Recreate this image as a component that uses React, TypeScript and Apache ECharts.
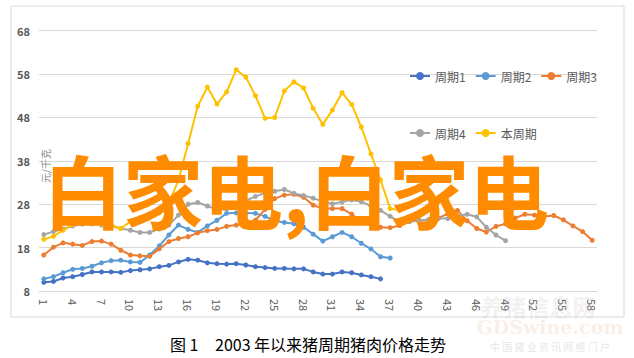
import React, { useEffect, useRef } from "react";
import * as echarts from "echarts";

const categories = [
  "1","2","3","4","5","6","7","8","9","10","11","12","13","14","15","16","17","18","19","20",
  "21","22","23","24","25","26","27","28","29","30","31","32","33","34","35","36","37","38","39","40",
  "41","42","43","44","45","46","47","48","49","50","51","52","53","54","55","56","57","58",
];

const cycle1 = [10.0,10.2,11.0,11.3,11.8,12.4,12.4,12.4,12.3,12.7,12.9,13.1,13.6,13.9,14.7,15.3,15.1,14.5,14.3,14.2,14.3,14.0,13.6,13.4,13.2,13.2,13.1,13.1,12.4,11.9,11.9,12.4,12.2,11.7,11.3,10.8];
const cycle2 = [10.8,11.3,12.2,13.0,13.2,13.7,14.5,15.0,15.1,14.7,14.6,16.3,18.4,20.9,23.2,22.2,21.5,23.0,24.3,25.9,26.0,26.0,25.9,25.2,24.2,23.8,23.5,22.7,21.1,19.5,20.5,21.5,20.5,19.0,17.7,15.9,15.6];
const cycle3 = [16.3,18.1,19.1,18.8,18.5,19.4,19.5,18.8,17.4,16.3,16.1,16.0,17.7,19.4,20.1,20.5,21.4,21.9,22.2,22.9,23.2,23.5,24.3,26.8,29.3,30.1,30.3,29.6,27.8,27.0,27.0,27.0,25.7,24.0,23.3,22.7,22.6,23.1,24.0,24.3,24.2,24.8,25.8,26.6,24.2,22.4,21.6,22.9,23.5,24.8,25.7,25.5,25.2,25.4,24.4,23.0,21.7,19.7];
const cycle4 = [21.0,21.7,22.3,23.0,23.4,23.5,23.2,23.0,22.4,22.0,21.5,21.5,22.3,23.2,25.5,28.0,28.4,27.6,26.8,26.8,27.6,28.8,29.8,30.6,31.0,31.4,30.5,30.0,29.4,28.6,28.1,28.5,29.0,28.6,27.6,26.6,25.2,24.0,24.0,24.2,24.5,24.7,24.7,25.3,25.7,25.1,22.7,20.9,19.6];
const current = [19.9,20.6,22.0,23.3,24.0,23.7,23.5,23.2,22.4,24.0,24.9,25.5,26.0,28.2,33.6,42.0,50.6,55.0,51.1,53.9,59.0,57.3,53.0,47.8,48.0,54.1,56.2,54.8,50.1,46.4,49.7,53.7,51.0,45.8,39.6,33.6,27.0,26.6];

const seriesNames = ["周期1", "周期2", "周期3", "周期4", "本周期"];
const seriesData = [cycle1, cycle2, cycle3, cycle4, current];
const seriesColors = ["#4472C4", "#5B9BD5", "#ED7D31", "#A5A5A5", "#FFC000"];

const yMin = 8;
const yMax = 68;
const yStep = 10;

const unitLabel = "元/千克";
const overlayText = "白家电,白家电";
const captionFig = "图 1";
const captionText = "2003 年以来猪周期猪肉价格走势";

const FONT = '"Noto Sans CJK SC", "Noto Sans", sans-serif';

export default function App() {
  const ref = useRef<HTMLDivElement>(null);
  useEffect(() => {
    if (!ref.current) return;
    const chart = echarts.init(ref.current, null, { renderer: "svg" });
    const legendCommon = {
      orient: "horizontal",
      itemWidth: 20,
      itemHeight: 10,
      itemGap: 9,
      padding: 0,
      textStyle: { fontSize: 12, color: "#595959", fontFamily: FONT },
    };
    chart.setOption({
      animation: false,
      backgroundColor: "#ffffff",
      textStyle: { fontFamily: FONT },
      grid: { left: 39, right: 37, top: 30.7, bottom: 67, containLabel: false },
      legend: [
        { ...legendCommon, data: seriesNames.slice(0, 3), left: 409, top: 70 },
        { ...legendCommon, data: seriesNames.slice(3), left: 409, top: 127 },
      ],
      xAxis: {
        type: "category",
        data: categories,
        boundaryGap: true,
        axisLine: { show: true, lineStyle: { color: "#d9d9d9" } },
        axisTick: { show: false },
        axisLabel: {
          interval: 2,
          rotate: -90,
          fontSize: 11,
          color: "#595959",
          margin: 8,
          fontFamily: FONT,
        },
      },
      yAxis: {
        type: "value",
        min: yMin,
        max: yMax,
        interval: yStep,
        axisLine: { show: false },
        axisTick: { show: false },
        splitLine: { lineStyle: { color: "#d9d9d9", width: 1 } },
        axisLabel: { fontSize: 11, color: "#595959", fontWeight: "bold", margin: 9, fontFamily: FONT },
      },
      series: seriesNames.map((name, i) => ({
        name,
        type: "line",
        data: seriesData[i],
        symbol: "circle",
        symbolSize: 5,
        lineStyle: { width: 2, color: seriesColors[i] },
        itemStyle: { color: seriesColors[i] },
        z: 2 + i,
      })),
      graphic: [
        {
          type: "rect",
          shape: { x: 11, y: 6, width: 613, height: 311 },
          style: { fill: "none", stroke: "#d9d9d9", lineWidth: 1 },
          silent: true,
          z: 0,
        },
        {
          type: "text",
          x: 45,
          y: 166,
          rotation: Math.PI / 2,
          style: {
            text: unitLabel,
            fontSize: 10,
            fill: "#8c8c8c",
            fontFamily: FONT,
            align: "center",
            verticalAlign: "middle",
          },
          z: 5,
        },
        {
          type: "text",
          x: 43,
          y: 188,
          style: {
            text: overlayText,
            fontSize: 80,
            fontWeight: "bold",
            fill: "#FF8C00",
            fontFamily: FONT,
            align: "left",
            verticalAlign: "middle",
          },
          z: 100,
        },
        {
          type: "text",
          x: 170,
          y: 344,
          style: { text: captionFig, fontSize: 16, fill: "#000000", fontFamily: FONT, verticalAlign: "middle" },
          z: 10,
        },
        {
          type: "text",
          x: 215,
          y: 344,
          style: { text: captionText, fontSize: 16, fill: "#000000", fontFamily: FONT, verticalAlign: "middle" },
          z: 10,
        },
        {
          type: "text",
          x: 538,
          y: 306,
          style: { text: "养猪信息网", fontSize: 23, fontWeight: "bold", fill: "rgba(205,195,205,0.25)", fontFamily: FONT, align: "center", verticalAlign: "middle" },
          z: 50,
        },
        {
          type: "text",
          x: 550,
          y: 327,
          style: { text: "GDSwine.com", fontSize: 19, fontWeight: "bold", fill: "rgba(240,200,170,0.3)", fontFamily: '"DejaVu Serif", serif', align: "center", verticalAlign: "middle" },
          z: 50,
        },
        {
          type: "text",
          x: 550,
          y: 346,
          style: { text: "中 国 猪 业 资 讯 网 络 门 户", fontSize: 10, fill: "rgba(190,190,190,0.4)", fontFamily: FONT, align: "center", verticalAlign: "middle" },
          z: 50,
        },
      ],
    });
    return () => chart.dispose();
  }, []);
  return (
    <div
      ref={ref}
      style={{ position: "fixed", left: 0, top: 0, width: 634, height: 358, background: "#fff" }}
    />
  );
}
